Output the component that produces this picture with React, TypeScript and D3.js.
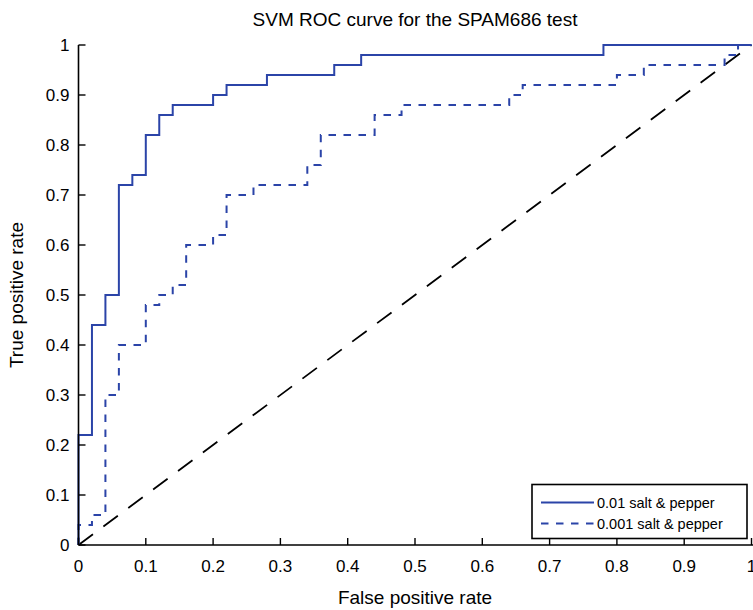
import React from "react";
import * as d3 from "d3";

const solidFpr = [0, 0, 0.02, 0.04, 0.06, 0.08, 0.1, 0.12, 0.14, 0.2, 0.22, 0.28, 0.38, 0.42, 0.78, 1];
const solidTpr = [0, 0.22, 0.44, 0.5, 0.72, 0.74, 0.82, 0.86, 0.88, 0.9, 0.92, 0.94, 0.96, 0.98, 1, 1];
const dashFpr = [0, 0, 0.02, 0.04, 0.06, 0.1, 0.12, 0.14, 0.16, 0.2, 0.22, 0.26, 0.34, 0.36, 0.44, 0.48, 0.64, 0.66, 0.8, 0.84, 0.96, 0.98, 1];
const dashTpr = [0, 0.04, 0.06, 0.3, 0.4, 0.48, 0.5, 0.52, 0.6, 0.62, 0.7, 0.72, 0.76, 0.82, 0.86, 0.88, 0.9, 0.92, 0.94, 0.96, 0.98, 1, 1];
const diagX = [0, 1];
const diagY = [0, 1];
const tickVals = [0, 0.1, 0.2, 0.3, 0.4, 0.5, 0.6, 0.7, 0.8, 0.9, 1];
const seriesNames = ["0.01 salt & pepper", "0.001 salt & pepper"];
const titleText = "SVM ROC curve for the SPAM686 test";
const xLabel = "False positive rate";
const yLabel = "True positive rate";

const W = 753, H = 610;
const left = 78.5, right = 751.5, top = 45, bottom = 545;
const blue = "#2b44a8";
const font = "'Liberation Sans', Arial, Helvetica, sans-serif";

export default function App() {
  const x = d3.scaleLinear().domain([0, 1]).range([left, right]);
  const y = d3.scaleLinear().domain([0, 1]).range([bottom, top]);
  const step = d3.line<[number, number]>().x(d => x(d[0])).y(d => y(d[1])).curve(d3.curveStepAfter);
  const straight = d3.line<[number, number]>().x(d => x(d[0])).y(d => y(d[1]));
  const solidPts = solidFpr.map((v, i) => [v, solidTpr[i]] as [number, number]);
  const dashPts = dashFpr.map((v, i) => [v, dashTpr[i]] as [number, number]);
  const diagPts = diagX.map((v, i) => [v, diagY[i]] as [number, number]);

  const lg = { x0: 532, y0: 484.5, x1: 747, y1: 538.5 };

  return (
    <svg width={W} height={H} style={{ position: "absolute", left: 0, top: 0, background: "#fff" }} fontFamily={font}>
      <rect x={0} y={0} width={W} height={H} fill="#fff" />
      <path d={straight(diagPts) || ""} fill="none" stroke="#000" strokeWidth={1.8} strokeDasharray="18 13" />
      <path d={step(dashPts) || ""} fill="none" stroke={blue} strokeWidth={2} strokeDasharray="7.5 7.5" />
      <path d={step(solidPts) || ""} fill="none" stroke={blue} strokeWidth={2} />
      {/* axes */}
      <line x1={left} x2={W} y1={bottom} y2={bottom} stroke="#000" strokeWidth={1.6} />
      <line x1={left} x2={left} y1={top} y2={bottom} stroke="#000" strokeWidth={1.6} />
      {tickVals.map(t => (
        <g key={"x" + t}>
          <line x1={x(t)} x2={x(t)} y1={bottom} y2={bottom - 7} stroke="#000" strokeWidth={1.4} />
          <text x={x(t)} y={bottom + 27} fontSize={17} textAnchor="middle">{String(t)}</text>
        </g>
      ))}
      {tickVals.map(t => (
        <g key={"y" + t}>
          <line x1={left} x2={left + 7} y1={y(t)} y2={y(t)} stroke="#000" strokeWidth={1.4} />
          <text x={left - 9} y={y(t) + 6} fontSize={17} textAnchor="end">{String(t)}</text>
        </g>
      ))}
      <text x={(left + right) / 2} y={26} fontSize={19} textAnchor="middle">{titleText}</text>
      <text x={(left + right) / 2} y={604} fontSize={19} textAnchor="middle">{xLabel}</text>
      <text transform={`translate(23,${(top + bottom) / 2}) rotate(-90)`} fontSize={19} textAnchor="middle">{yLabel}</text>
      {/* legend */}
      <rect x={lg.x0} y={lg.y0} width={lg.x1 - lg.x0} height={lg.y1 - lg.y0} fill="#fff" stroke="#000" strokeWidth={1.6} />
      <line x1={541} x2={594} y1={502.5} y2={502.5} stroke={blue} strokeWidth={2} />
      <line x1={541} x2={594} y1={523.5} y2={523.5} stroke={blue} strokeWidth={2} strokeDasharray="7.5 7.5" />
      <text x={597} y={507.5} fontSize={14.5}>{seriesNames[0]}</text>
      <text x={597} y={528.5} fontSize={14.5}>{seriesNames[1]}</text>
    </svg>
  );
}
